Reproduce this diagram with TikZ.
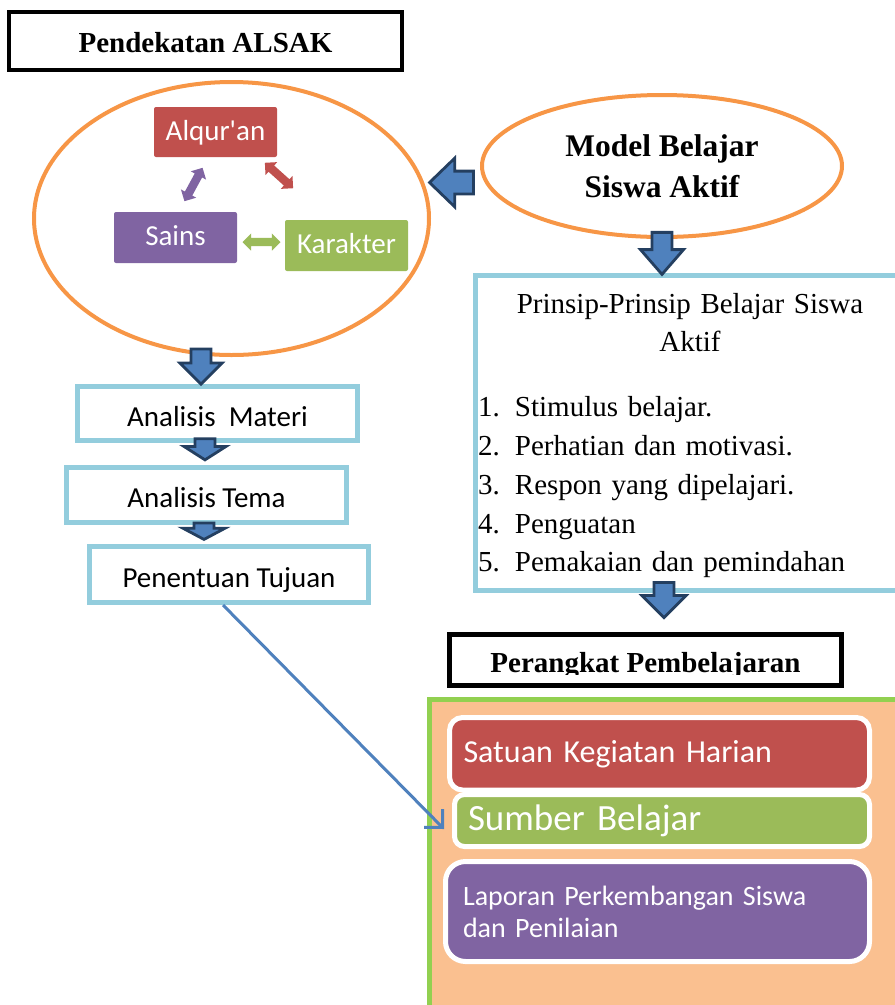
\documentclass[tikz,border=0pt]{standalone}
\usepackage{fontspec}
\setmainfont{Carlito}[Ligatures=TeXOff]
\newfontfamily\timesfont{Liberation Serif}
\usetikzlibrary{shapes.geometric,shapes.arrows,arrows.meta}
\setlength{\parindent}{0pt}

\definecolor{oranye}{HTML}{F79646}
\definecolor{merah}{HTML}{C0504D}
\definecolor{ungu}{HTML}{8064A2}
\definecolor{hijaubox}{HTML}{9BBB59}
\definecolor{biru}{HTML}{4F81BD}
\definecolor{birutua}{HTML}{243F60}
\definecolor{birumuda}{HTML}{93CDDD}
\definecolor{peach}{HTML}{FAC090}
\definecolor{hijau}{HTML}{92D050}

\tikzset{
  judulbox/.style={draw=black, line width=4pt, minimum width=393pt, minimum height=58pt,
    font=\timesfont\bfseries\fontsize{29}{34}\selectfont, text height=22pt, text depth=0pt},
  elips/.style={ellipse, draw=oranye, line width=4pt},
  kotak/.style={rounded corners=2pt, minimum width=123pt, minimum height=50pt, text=white,
    font=\fontsize{29}{34}\selectfont, text height=19pt, text depth=3pt},
  duaarah/.style={double arrow, minimum height=38pt, inner xsep=0pt, inner ysep=4pt,
    double arrow head extend=4.5pt},
  langkah/.style={draw=birumuda, line width=5pt, minimum width=280pt, minimum height=55pt,
    font=\fontsize{29}{34}\selectfont, text height=25pt, text depth=0pt},
  panah/.style={single arrow, draw=birutua, fill=biru, line width=2.8pt, inner xsep=0pt,
    inner ysep=8.6pt, single arrow head extend=11pt, anchor=tip},
  kartu/.style={draw=white, line width=5pt, text=white, align=left, inner ysep=0pt},
  garis/.style={draw=biru, line width=3pt, -{Straight Barb[length=13pt,width=26pt]}}
}

\begin{document}
\begin{tikzpicture}[x=1pt, y=-1pt]
    \useasboundingbox (0,0) rectangle (895,1005);
    \clip (0,0) rectangle (895,1005);

    % Pendekatan ALSAK
    \node[judulbox] (judul) at (205.5,41) {Pendekatan ALSAK};
    \node[elips, minimum width=395pt, minimum height=273pt] (alsak) at (231.5,218.5) {};
    \node[kotak, fill=merah] (alquran) at (215.5,132) {Alqur'an};
    \node[kotak, fill=ungu, minimum height=51pt] (sains) at (175.5,237.5) {Sains};
    \node[kotak, fill=hijaubox, minimum height=51pt] (karakter) at (346.5,245.5) {Karakter};
    \node[duaarah, fill=merah, rotate=-42] (ak) at (279,175.5) {};
    \node[duaarah, fill=ungu, rotate=61.5] (as) at (193.5,184.5) {};
    \node[duaarah, fill=hijaubox] (sk) at (261.5,242) {};

    % Model belajar
    \node[elips, minimum width=360pt, minimum height=142pt, align=center,
      font=\timesfont\bfseries\fontsize{31.5}{41}\selectfont] (model) at (662,166)
      {Model Belajar\\Siswa Aktif};

    % Langkah kiri
    \node[langkah, minimum height=54pt] (materi) at (217.5,413.5) {Analisis\ \ Materi};
    \node[langkah] (tema) at (206.5,495) {Analisis Tema};
    \node[langkah, minimum width=279pt, minimum height=56pt] (tujuan) at (229,574.5) {Penentuan Tujuan};

    % Prinsip
    \node[draw=birumuda, line width=5pt, minimum width=429pt, minimum height=315pt,
      text width=424pt, inner xsep=2.5pt, inner ysep=0pt,
      font=\timesfont\fontsize{29}{38.8}\selectfont] (prinsip) at (690,433) {%
      \centering\rule{0pt}{25.1pt}Prinsip-Prinsip Belajar Siswa\\Aktif\par
      \vspace{26pt}\raggedright
      \makebox[37pt][l]{1.}Stimulus belajar.\\
      \makebox[37pt][l]{2.}Perhatian dan motivasi.\\
      \makebox[37pt][l]{3.}Respon yang dipelajari.\\
      \makebox[37pt][l]{4.}Penguatan\\
      \makebox[37pt][l]{5.}Pemakaian dan pemindahan};

    % Perangkat
    \begin{scope}
      \clip (449.5,634.5) rectangle (841.5,674);
      \node[minimum width=392pt, minimum height=51pt, text height=24pt, text depth=0pt,
        font=\timesfont\bfseries\fontsize{29}{34}\selectfont] (perangkat) at (645.5,660)
        {Perangkat Pembelajaran};
    \end{scope}
    \draw[line width=5pt] (perangkat.north west) rectangle (perangkat.south east);

    \draw[draw=hijau, line width=5pt, fill=peach] (429.5,699.5) rectangle (915,1020);
    \node[kartu, fill=merah, rounded corners=13pt, text width=392pt, inner xsep=14pt,
      minimum height=72.5pt, font=\fontsize{32}{38}\selectfont, text height=21pt,
      text depth=3pt] (satuan) at (659.5,753.75) {Satuan Kegiatan Harian};
    \node[kartu, fill=hijaubox, rounded corners=10pt, text width=388pt, inner xsep=13.5pt,
      minimum height=52pt, font=\fontsize{37}{44}\selectfont, text height=24pt,
      text depth=5pt] (sumber) at (662,820.5) {Sumber Belajar};
    \node[kartu, fill=ungu, rounded corners=20pt, text width=389pt, inner xsep=17.5pt,
      minimum height=100pt, font=\fontsize{28}{32}\selectfont] (laporan) at (657.5,911.5)
      {Laporan Perkembangan Siswa\\dan Penilaian};

    % Panah blok
    \node[panah, rotate=180, minimum height=44pt, inner ysep=10pt,
      single arrow head extend=13pt, single arrow tip angle=88] (p0) at (427.5,182.5) {};
    \node[panah, rotate=-90, minimum height=35pt] (p1) at (201,386) {};
    \node[panah, rotate=-90, minimum height=21pt, single arrow tip angle=115] (p2) at (205,461.5) {};
    \node[panah, rotate=-90, minimum height=16.5pt, single arrow tip angle=124] (p3) at (204,541) {};
    \node[panah, rotate=-90, minimum height=42pt, single arrow tip angle=82,
      single arrow head extend=11.5pt] (p4) at (662,276.5) {};
    \node[panah, rotate=-90, minimum height=35pt, single arrow head extend=12pt] (p5) at (664,619.5) {};

    \draw[garis] ([xshift=-6pt]tujuan.south) -- ([xshift=-8pt,yshift=-8.5pt]sumber.west);
\end{tikzpicture}
\end{document}
